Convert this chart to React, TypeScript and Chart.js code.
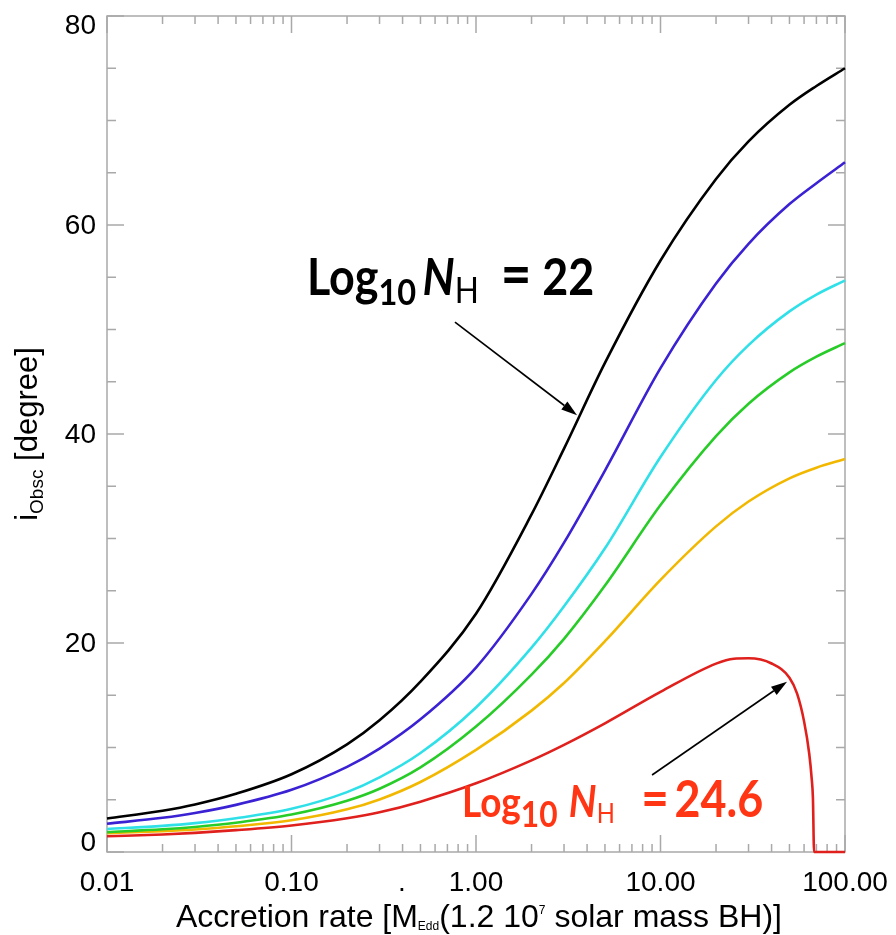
import React, { useEffect, useRef } from 'react';
import { Chart, registerables } from 'chart.js';

Chart.register(...registerables);

// ---- data ----
const accretionRate = [0.01, 0.02, 0.03, 0.05, 0.1, 0.2, 0.3, 0.5, 1, 2, 3, 5, 10, 20, 30, 50, 70, 100];
const iObscNH22 = [3.2, 3.95, 4.55, 5.57, 7.44, 10.3, 12.6, 16.3, 22.8, 32.3, 38.6, 46.8, 56.6, 64.4, 68.0, 71.5, 73.3, 75.0];
const iObscBlue = [2.7, 3.27, 3.73, 4.51, 5.95, 8.15, 9.9, 12.7, 17.65, 24.7, 29.6, 36.5, 46.3, 54.4, 58.2, 62.0, 64.0, 66.0];
const iObscCyan = [2.2, 2.5, 2.76, 3.23, 4.13, 5.73, 7.14, 9.47, 13.83, 19.55, 23.51, 29.06, 37.8, 45.17, 48.51, 51.73, 53.34, 54.7];
const iObscGreen = [1.9, 2.17, 2.4, 2.8, 3.58, 4.9, 6.05, 8.09, 12.0, 16.97, 20.4, 25.5, 33.2, 39.8, 42.9, 45.9, 47.4, 48.7];
const iObscOrange = [1.8, 2.0, 2.16, 2.46, 3.03, 4.08, 5.03, 6.7, 9.77, 13.53, 16.17, 20.17, 26.04, 31.16, 33.54, 35.76, 36.78, 37.6];
const accretionRateRed = [0.01, 0.02, 0.03, 0.05, 0.1, 0.2, 0.3, 0.5, 1, 2, 3, 5, 10, 20, 25, 30, 40, 50, 55, 60, 64, 66, 67, 68, 100];
const iObscNH246 = [1.5, 1.68, 1.83, 2.09, 2.54, 3.23, 3.8, 4.82, 6.57, 8.77, 10.25, 12.31, 15.32, 18.03, 18.5, 18.54, 18.04, 16.68, 15.15, 12.5, 9.4, 7.0, 5.2, 0, 0];

const xTickValues = [0.01, 0.1, 1, 10, 100];
const xTickLabels = ['0.01', '0.10', '1.00', '10.00', '100.00'];
const yTickValues = [0, 20, 40, 60, 80];
const yTickLabels = ['0', '20', '40', '60', '80'];

// annotation anchors in data coordinates
const label22 = { x: 0.1213, y: 53.3 };
const label246 = { x: 0.839, y: 3.35 };
const arrow22 = { x0: 0.769, y0: 50.7, x1: 3.53, y1: 41.8 };
const arrow246 = { x0: 9.0, y0: 7.37, x1: 48.5, y1: 16.3 };
const strayDotX = 0.397;

type Seg = { t: string; size: number; weight?: string; style?: string; dy?: number; family?: string };

function fontOf(s: Seg, fam: string) {
  return `${s.style || 'normal'} ${s.weight || 'normal'} ${s.size}px ${s.family || fam}`;
}

function drawRich(ctx: CanvasRenderingContext2D, segs: Seg[], x: number, y: number, color: string, fam: string, sx = 1, align: 'left' | 'center' = 'left') {
  const widths = segs.map((s) => {
    ctx.font = fontOf(s, fam);
    return ctx.measureText(s.t).width;
  });
  const total = widths.reduce((a, b) => a + b, 0) * sx;
  const startX = align === 'center' ? x - total / 2 : x;
  ctx.save();
  ctx.translate(startX, y);
  ctx.scale(sx, 1);
  ctx.fillStyle = color;
  ctx.textBaseline = 'alphabetic';
  ctx.textAlign = 'left';
  let off = 0;
  segs.forEach((s, i) => {
    ctx.font = fontOf(s, fam);
    ctx.fillText(s.t, off, s.dy || 0);
    off += widths[i];
  });
  ctx.restore();
}

function drawArrow(ctx: CanvasRenderingContext2D, x0: number, y0: number, x1: number, y1: number) {
  const ang = Math.atan2(y1 - y0, x1 - x0);
  const len = 16;
  const half = 5;
  const bx = x1 - len * Math.cos(ang);
  const by = y1 - len * Math.sin(ang);
  ctx.save();
  ctx.strokeStyle = '#000';
  ctx.fillStyle = '#000';
  ctx.lineWidth = 1.6;
  ctx.beginPath();
  ctx.moveTo(x0, y0);
  ctx.lineTo(bx, by);
  ctx.stroke();
  ctx.beginPath();
  ctx.moveTo(x1, y1);
  ctx.lineTo(bx + half * Math.sin(ang), by - half * Math.cos(ang));
  ctx.lineTo(bx - half * Math.sin(ang), by + half * Math.cos(ang));
  ctx.closePath();
  ctx.fill();
  ctx.restore();
}

const framePlugin = {
  id: 'idlFrame',
  beforeDatasetsDraw(chart: any) {
    const { ctx, chartArea: a, scales } = chart;
    const x = scales.x;
    const y = scales.y;
    ctx.save();
    ctx.strokeStyle = '#a9a9a9';
    ctx.lineWidth = 1.5;
    ctx.strokeRect(a.left, a.top, a.right - a.left, a.bottom - a.top);
    ctx.beginPath();
    for (let d = -2; d <= 2; d++) {
      for (let m = 1; m <= 9; m++) {
        const v = m * Math.pow(10, d);
        if (v > 100.0001) break;
        const px = x.getPixelForValue(v);
        const len = m === 1 ? 17 : 8;
        ctx.moveTo(px, a.bottom);
        ctx.lineTo(px, a.bottom - len);
        ctx.moveTo(px, a.top);
        ctx.lineTo(px, a.top + len);
      }
    }
    for (let v = 0; v <= 80; v += 5) {
      const py = y.getPixelForValue(v);
      const len = v % 20 === 0 ? 17 : 9;
      ctx.moveTo(a.left, py);
      ctx.lineTo(a.left + len, py);
      ctx.moveTo(a.right, py);
      ctx.lineTo(a.right - len, py);
    }
    ctx.stroke();
    ctx.restore();
  },
  afterDatasetsDraw(chart: any) {
    const { ctx, chartArea: a, scales } = chart;
    const x = scales.x;
    const y = scales.y;
    const sans = '"Liberation Sans", Arial, sans-serif';
    ctx.save();
    ctx.fillStyle = '#000';
    ctx.font = `28px ${sans}`;
    ctx.textAlign = 'center';
    ctx.textBaseline = 'alphabetic';
    xTickValues.forEach((v, i) => {
      ctx.fillText(xTickLabels[i], x.getPixelForValue(v), 891);
    });
    ctx.fillText('.', x.getPixelForValue(strayDotX), 891);
    ctx.textAlign = 'right';
    ctx.textBaseline = 'middle';
    yTickValues.forEach((v, i) => {
      let py = y.getPixelForValue(v);
      py = Math.max(a.top + 9, Math.min(a.bottom - 10, py));
      ctx.fillText(yTickLabels[i], 96, py + 1);
    });
    ctx.restore();

    drawRich(
      ctx,
      [
        { t: 'Accretion rate [M', size: 32 },
        { t: 'Edd', size: 12, dy: 3 },
        { t: '(1.2 10', size: 32 },
        { t: '7', size: 12, dy: -13 },
        { t: ' solar mass BH)]', size: 32 },
      ],
      (a.left + a.right) / 2 + 3,
      927,
      '#000',
      sans,
      1,
      'center'
    );

    ctx.save();
    ctx.translate(37, (a.top + a.bottom) / 2);
    ctx.rotate(-Math.PI / 2);
    drawRich(
      ctx,
      [
        { t: 'i', size: 31 },
        { t: 'Obsc', size: 19, dy: 6 },
        { t: ' [degree]', size: 31 },
      ],
      0,
      0,
      '#000',
      sans,
      1,
      'center'
    );
    ctx.restore();

    const ann = '"Lato", "Open Sans", sans-serif';
    drawRich(
      ctx,
      [
        { t: 'Log', size: 51, weight: 'bold' },
        { t: '10', size: 37, weight: 'bold', dy: 10 },
        { t: ' ', size: 30, weight: 'bold' },
        { t: 'N', size: 51, weight: 'bold', style: 'italic' },
        { t: 'H', size: 36, weight: 'normal', dy: 8 },
        { t: '  ', size: 51, weight: 'bold' },
        { t: '=', size: 60, weight: 'bold' },
        { t: ' ', size: 51, weight: 'bold' },
        { t: '22', size: 51, weight: 'bold' },
      ],
      x.getPixelForValue(label22.x),
      y.getPixelForValue(label22.y),
      '#000',
      ann,
      0.88
    );
    drawRich(
      ctx,
      [
        { t: 'Log', size: 42, weight: 'bold' },
        { t: '10', size: 36, weight: 'bold', dy: 10 },
        { t: ' ', size: 53, weight: 'bold' },
        { t: 'N', size: 44, weight: 'bold', style: 'italic' },
        { t: 'H', size: 27, weight: 'normal', dy: 6 },
        { t: '  ', size: 62, weight: 'bold' },
        { t: '=', size: 54, weight: 'bold' },
        { t: ' ', size: 26, weight: 'bold' },
        { t: '24.6', size: 51, weight: 'bold' },
      ],
      x.getPixelForValue(label246.x),
      y.getPixelForValue(label246.y),
      '#ff3514',
      ann,
      0.88
    );
    drawArrow(ctx, x.getPixelForValue(arrow22.x0), y.getPixelForValue(arrow22.y0), x.getPixelForValue(arrow22.x1), y.getPixelForValue(arrow22.y1));
    drawArrow(ctx, x.getPixelForValue(arrow246.x0), y.getPixelForValue(arrow246.y0), x.getPixelForValue(arrow246.x1), y.getPixelForValue(arrow246.y1));
  },
};

function series(xs: number[], ys: number[]) {
  return xs.map((v, i) => ({ x: v, y: ys[i] }));
}

export default function App() {
  const ref = useRef<HTMLCanvasElement | null>(null);
  useEffect(() => {
    if (!ref.current) return;
    const mk = (data: any, color: string) => ({
      data,
      borderColor: color,
      backgroundColor: color,
      borderWidth: 2.6,
      pointRadius: 0,
      showLine: true,
      fill: false,
      cubicInterpolationMode: 'monotone' as const,
      clip: false as any,
    });
    const chart = new Chart(ref.current, {
      type: 'scatter',
      data: {
        datasets: [
          mk(series(accretionRate, iObscNH22), '#000000'),
          mk(series(accretionRate, iObscBlue), '#3a22d4'),
          mk(series(accretionRate, iObscCyan), '#30e0e8'),
          mk(series(accretionRate, iObscGreen), '#28cc28'),
          mk(series(accretionRate, iObscOrange), '#f2b800'),
          mk(series(accretionRateRed, iObscNH246), '#e0201c'),
        ],
      },
      options: {
        animation: false,
        responsive: false,
        devicePixelRatio: 1,
        layout: { padding: { left: 107, right: 51, top: 16, bottom: 83 } },
        plugins: { legend: { display: false }, tooltip: { enabled: false }, title: { display: false } },
        scales: {
          x: { type: 'logarithmic', min: 0.01, max: 100, display: false },
          y: { type: 'linear', min: 0, max: 80, display: false },
        },
      },
      plugins: [framePlugin],
    });
    return () => chart.destroy();
  }, []);
  return (
    <div style={{ position: 'fixed', left: 0, top: 0, width: 896, height: 935, background: '#fff' }}>
      <canvas ref={ref} width={896} height={935} style={{ width: 896, height: 935, display: 'block' }} />
    </div>
  );
}
